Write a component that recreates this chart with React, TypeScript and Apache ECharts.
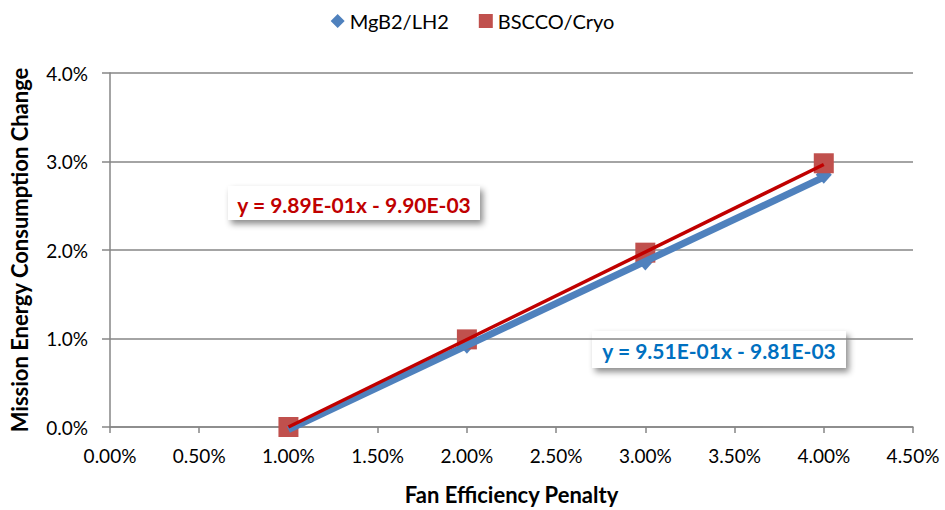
import React, { useEffect, useRef } from "react";
import * as echarts from "echarts";

const xPenalty = [0.01, 0.02, 0.03, 0.04];
const mgb2Values = [0.0, 0.0093, 0.0187, 0.0285];
const bsccoValues = [0.0, 0.0099, 0.0197, 0.0298];
const mgb2TrendX = [0.01, 0.04];
const mgb2TrendY = [-0.0003, 0.02823];
const bsccoTrendX = [0.01, 0.04];
const bsccoTrendY = [0.0, 0.02966];
const mgb2Label = "y = 9.51E-01x - 9.81E-03";
const bsccoLabel = "y = 9.89E-01x - 9.90E-03";
const seriesNames = ["MgB2/LH2", "BSCCO/Cryo"];

const FONT = "Lato, 'Open Sans', sans-serif";

export default function App() {
  const ref = useRef<HTMLDivElement>(null);
  useEffect(() => {
    document.body.style.margin = "0";
    if (!ref.current) return;
    const chart = echarts.init(ref.current, undefined, { renderer: "svg" });
    const pair = (xs: number[], ys: number[]) => xs.map((x, i) => [x, ys[i]]);
    const labelBox = (x: number, y: number, w: number, h: number, text: string, color: string) => ({
      type: "group",
      x,
      y,
      children: [
        {
          type: "rect",
          shape: { x: 0, y: 0, width: w, height: h },
          style: {
            fill: "#ffffff",
            shadowBlur: 6,
            shadowOffsetX: 3,
            shadowOffsetY: 4,
            shadowColor: "rgba(0,0,0,0.45)",
          },
        },
        {
          type: "text",
          x: w / 2,
          y: h / 2 + 1,
          style: {
            text,
            fill: color,
            font: `bold 21px ${FONT}`,
            align: "center",
            verticalAlign: "middle",
          },
        },
      ],
    });
    chart.setOption({
      animation: false,
      backgroundColor: "#ffffff",
      textStyle: { fontFamily: FONT },
      legend: {
        top: 6,
        left: "center",
        data: [
          { name: seriesNames[0], icon: "diamond" },
          { name: seriesNames[1], icon: "rect" },
        ],
        itemWidth: 14,
        itemHeight: 14,
        itemGap: 30,
        textStyle: { fontSize: 20, color: "#000", fontFamily: FONT },
      },
      grid: { left: 110, right: 32, top: 73, bottom: 82 },
      xAxis: {
        type: "value",
        min: 0,
        max: 0.045,
        interval: 0.005,
        name: "Fan Efficiency Penalty",
        nameLocation: "middle",
        nameGap: 56,
        nameTextStyle: { fontSize: 22, fontWeight: "bold", color: "#000", fontFamily: FONT },
        axisLine: { show: true, lineStyle: { color: "#868686", width: 1.5 } },
        axisTick: { show: true, length: 6, lineStyle: { color: "#868686", width: 1.5 } },
        axisLabel: {
          fontSize: 19,
          color: "#000",
          margin: 19,
          formatter: (v: number) => (v * 100).toFixed(2) + "%",
        },
        splitLine: { show: false },
      },
      yAxis: {
        type: "value",
        min: 0,
        max: 0.04,
        interval: 0.01,
        name: "Mission Energy Consumption Change",
        nameLocation: "middle",
        nameGap: 80,
        nameTextStyle: { fontSize: 22, fontWeight: "bold", color: "#000", fontFamily: FONT },
        axisLine: { show: true, lineStyle: { color: "#868686", width: 1.5 } },
        axisTick: { show: true, length: 8, lineStyle: { color: "#868686", width: 1.5 } },
        axisLabel: {
          fontSize: 19,
          color: "#000",
          margin: 22,
          formatter: (v: number) => (v * 100).toFixed(1) + "%",
        },
        splitLine: { show: true, lineStyle: { color: "#868686", width: 1.5 } },
      },
      series: [
        {
          name: seriesNames[0],
          type: "scatter",
          symbol: "diamond",
          symbolSize: [16, 18],
          itemStyle: { color: "#4F81BD", opacity: 1 },
          data: pair(xPenalty, mgb2Values),
          z: 2,
        },
        {
          name: seriesNames[1],
          type: "scatter",
          symbol: "rect",
          symbolSize: 20,
          itemStyle: { color: "#C0504D", opacity: 1 },
          data: pair(xPenalty, bsccoValues),
          z: 2,
        },
        {
          name: "MgB2 trend",
          type: "line",
          showSymbol: false,
          symbol: "none",
          lineStyle: { color: "#4F81BD", width: 7 },
          data: pair(mgb2TrendX, mgb2TrendY),
          clip: false,
          z: 3,
        },
        {
          name: "BSCCO trend",
          type: "line",
          showSymbol: false,
          symbol: "none",
          lineStyle: { color: "#C00000", width: 3.5 },
          data: pair(bsccoTrendX, bsccoTrendY),
          clip: false,
          z: 4,
        },
      ],
      graphic: [
        labelBox(228, 186, 252, 34, bsccoLabel, "#C00000"),
        labelBox(592, 331, 254, 37, mgb2Label, "#0070C0"),
      ],
    });
    return () => chart.dispose();
  }, []);
  return <div ref={ref} style={{ width: 945, height: 510 }} />;
}
